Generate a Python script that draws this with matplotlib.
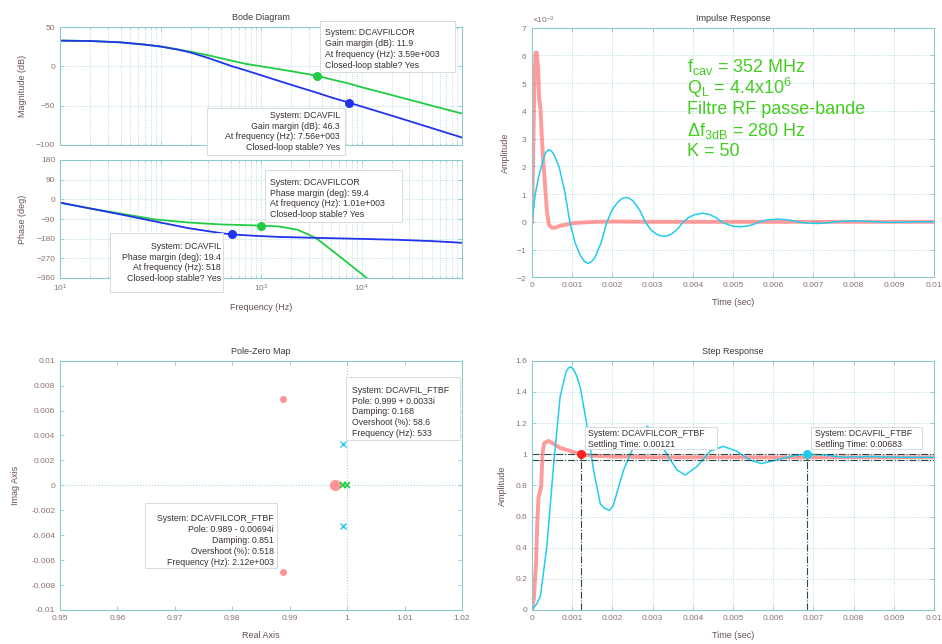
import numpy as np
import matplotlib.pyplot as plt
from matplotlib.patches import Rectangle
from matplotlib.ticker import FuncFormatter, NullFormatter, LogLocator, ScalarFormatter, MultipleLocator

plt.rcParams['font.family'] = ['Liberation Sans', 'DejaVu Sans']
plt.rcParams['mathtext.fontset'] = 'custom'
plt.rcParams['mathtext.rm'] = 'Liberation Sans'
plt.rcParams['mathtext.it'] = 'Liberation Sans:italic'

# ---- Bode data ----
mag_freq = [10, 20, 40, 70, 100, 150, 200, 300, 518, 700, 1010, 2000, 3590, 5000, 7560,
            10000, 20000, 50000, 100000]
mag_fil = [32.7, 32.2, 30.5, 27.6, 25.2, 21.2, 17.5, 10.5, 0, -5, -11.5, -23.5, -33.5, -39.5,
           -46.3, -51, -62.7, -78.5, -90.5]
mag_filcor = [32.7, 32.2, 30.5, 27.6, 25.2, 21.5, 18.5, 14, 7, 3.2, 0, -6.2, -11.9, -16.5,
              -22, -26.5, -36.5, -50, -60]

ph_freq_fil = [10, 19, 41, 88, 190, 405, 518, 870, 1500, 3300, 10000, 22000, 50000, 100000]
ph_fil = [-15, -40, -70, -101, -132, -155, -160.6, -167, -172, -176, -181, -185, -191, -199]
ph_freq_filcor = [10, 19, 41, 88, 190, 405, 700, 1010, 1500, 2300, 3000, 3590, 4500, 5600,
                  8300, 11200, 14000]
ph_filcor = [-15, -40, -66, -92, -106, -115, -118, -120.6, -124, -139, -162, -180, -215,
             -249, -311, -359, -410]

gm_fil = (7560, -46.3)
gm_filcor = (3590, -11.9)
pm_fil = (518, -160.6)
pm_filcor = (1010, -120.6)

# ---- Impulse response (amplitude in 1e-3 units, time in ms) ----
imp_t_fil = [0, 0.08, 0.17, 0.28, 0.34, 0.41, 0.48, 0.55, 0.68, 0.82, 0.94, 1.07, 1.2, 1.3,
             1.39, 1.48, 1.56, 1.72, 1.865, 2.0, 2.14, 2.24, 2.34, 2.43, 2.52, 2.68, 2.815,
             2.95, 3.1, 3.19, 3.29, 3.38, 3.47, 3.63, 3.765, 3.9, 4.05, 4.24, 4.42, 4.58,
             4.715, 4.87, 5.02, 5.19, 5.37, 5.53, 5.665, 5.85, 6.14, 6.42, 6.615, 6.8, 7.09,
             7.36, 7.565, 7.8, 8.04, 8.3, 8.515, 8.75, 8.99, 9.25, 9.465, 10]
imp_v_fil = [0, 1.0, 1.65, 2.25, 2.5, 2.6, 2.56, 2.42, 1.95, 1.05, 0, -0.75, -1.2, -1.42,
             -1.5, -1.44, -1.3, -0.75, 0, 0.45, 0.72, 0.84, 0.88, 0.84, 0.75, 0.42, 0,
             -0.28, -0.45, -0.5, -0.52, -0.5, -0.44, -0.25, 0, 0.16, 0.26, 0.31, 0.26, 0.15,
             0, -0.1, -0.16, -0.18, -0.15, -0.08, 0, 0.07, 0.1, 0.06, 0, -0.04, -0.06,
             -0.035, 0, 0.025, 0.035, 0.02, 0, -0.012, -0.02, -0.01, 0, 0.005]
imp_t_filcor = [0, 0.03, 0.06, 0.09, 0.12, 0.15, 0.18, 0.21, 0.25, 0.29, 0.33, 0.37, 0.42,
                0.5, 0.6, 0.7, 0.85, 1.0, 1.3, 1.6, 2.0, 3.0, 10]
imp_v_filcor = [0, 2.5, 5.0, 6.1, 6.1, 5.6, 4.4, 4.1, 2.9, 2.0, 1.2, 0.4, -0.1, -0.22, -0.2,
                -0.14, -0.1, -0.05, -0.02, 0, 0.01, 0, 0]

# ---- Pole-zero map ----
pz_filcor_re = [0.9888, 0.9888]
pz_filcor_im = [0.00694, -0.00694]
pz_filcor_zero = (0.9979, 0.0)
pz_fil_re = [0.99925, 0.99925]
pz_fil_im = [0.0033, -0.0033]
pz_green_re = [0.9992, 0.9999]
pz_green_im = [0.0, 0.0]

# ---- Step response (time in ms) ----
stp_t_fil = [0, 0.12, 0.21, 0.37, 0.54, 0.7, 0.85, 0.91, 0.97, 1.03, 1.1, 1.2, 1.37, 1.53,
             1.7, 1.82, 1.93, 2.02, 2.11, 2.28, 2.48, 2.65, 2.87, 3.1, 3.31, 3.6, 3.81, 4.1,
             4.43, 4.76, 5.09, 5.42, 5.71, 6.08, 6.5, 6.83, 7.25, 7.75, 8.4, 9.2, 10]
stp_v_fil = [0, 0.04, 0.09, 0.41, 0.94, 1.37, 1.53, 1.555, 1.56, 1.545, 1.51, 1.43, 1.18,
             0.9, 0.68, 0.65, 0.64, 0.67, 0.75, 0.9, 1.02, 1.12, 1.18, 1.12, 1.02, 0.9, 0.866,
             0.92, 1.02, 1.05, 1.02, 0.963, 0.94, 0.963, 0.99, 1.0, 0.995, 0.98, 0.985, 0.98,
             0.98]
stp_t_filcor = [0, 0.05, 0.1, 0.13, 0.16, 0.2, 0.23, 0.26, 0.3, 0.41, 0.55, 0.7, 0.9, 1.21,
                1.5, 2.0, 3.0, 5.0, 10]
stp_v_filcor = [0, 0.08, 0.3, 0.55, 0.72, 0.76, 0.8, 1.0, 1.07, 1.085, 1.065, 1.04, 1.025,
                1.0, 0.99, 0.985, 0.98, 0.98, 0.98]
settle_fil = (0.00683, 1.0)
settle_filcor = (0.00121, 1.0)
settle_band = [1.0, 0.96]

# ---- colours ----
FRAME = '#8ccaca'
GRID = '#a8d4d4'
TICKTXT = '#8a7272'
LABTXT = '#6a5050'
GREEN = '#22cc44'
BLUE = '#2233ee'
CYAN = '#22ccee'
RED = '#ff7a7a'
TIPTXT = '#3a3030'

W, H = 942, 644
fig = plt.figure(figsize=(W / 100, H / 100), dpi=100)


def box(x0, y0, x1, y1):
    return [x0 / W, 1 - y1 / H, (x1 - x0) / W, (y1 - y0) / H]


def style(ax, title=None):
    for s in ax.spines.values():
        s.set_color(FRAME)
        s.set_linewidth(0.8)
    ax.tick_params(which='both', direction='in', top=True, right=True, colors=FRAME,
                   labelcolor=TICKTXT, labelsize=6, length=3, width=0.6)
    ax.tick_params(which='minor', length=1.5)
    if title:
        ax.set_title(title, fontsize=6.5, color='#3a3a3a', pad=5)


def tip(ax, rect, tx, ty, text, ha='left'):
    x0, y0, x1, y1 = rect
    ax.add_patch(Rectangle((x0 / W, 1 - y1 / H), (x1 - x0) / W, (y1 - y0) / H,
                           transform=fig.transFigure, facecolor='white', edgecolor='#d4dcdc',
                           lw=0.7, zorder=8, clip_on=False))
    ax.text(tx / W, 1 - ty / H, text, transform=fig.transFigure, ha=ha, va='center',
            fontsize=6.3, color=TIPTXT, linespacing=1.28, zorder=9, clip_on=False)


def labels(ax, xlab, ylab, xpos, ypos):
    if xlab:
        ax.set_xlabel(xlab, fontsize=6.5, color=LABTXT)
        ax.xaxis.set_label_coords(0.5, xpos)
    ax.set_ylabel(ylab, fontsize=6.5, color=LABTXT)
    ax.yaxis.set_label_coords(ypos, 0.5)


gfmt = FuncFormatter(lambda v, p: f'{v:g}')

# ================= Bode magnitude =================
ax_m = fig.add_axes(box(60, 27, 462, 145))
ax_m.set_zorder(3)
style(ax_m, 'Bode Diagram')
ax_m.semilogx(mag_freq, mag_filcor, color=GREEN, lw=1.3)
ax_m.semilogx(mag_freq, mag_fil, color=BLUE, lw=1.3)
ax_m.plot(*gm_filcor, 'o', color=GREEN, ms=5.5)
ax_m.plot(*gm_fil, 'o', color=BLUE, ms=5.5)
ax_m.set_xlim(10, 1e5)
ax_m.set_ylim(-100, 50)
ax_m.set_yticks([-100, -50, 0, 50])
ax_m.set_xticks([10, 100, 1000, 10000])
ax_m.xaxis.set_minor_locator(LogLocator(subs=range(2, 10)))
ax_m.xaxis.set_minor_formatter(NullFormatter())
ax_m.tick_params(labelbottom=False)
ax_m.grid(True, which='major', ls=':', color=GRID, lw=0.6)
ax_m.grid(True, which='minor', axis='x', ls=':', color=GRID, lw=0.6)
labels(ax_m, None, 'Magnitude (dB)', 0, -0.083)
tip(ax_m, (320, 20.7, 455, 71.7), 325, 49,
    'System: DCAVFILCOR\nGain margin (dB): 11.9\nAt frequency (Hz): 3.59e+003\n'
    'Closed-loop stable? Yes')
tip(ax_m, (207, 108, 345, 155), 340, 131.5,
    'System: DCAVFIL\nGain margin (dB): 46.3\nAt frequency (Hz): 7.56e+003\n'
    'Closed-loop stable? Yes', ha='right')

# ================= Bode phase =================
ax_p = fig.add_axes(box(60, 160, 462, 278))
style(ax_p)
ax_p.semilogx(ph_freq_filcor, ph_filcor, color=GREEN, lw=1.3)
ax_p.semilogx(ph_freq_fil, ph_fil, color=BLUE, lw=1.3)
ax_p.plot(*pm_filcor, 'o', color=GREEN, ms=5.5)
ax_p.plot(*pm_fil, 'o', color=BLUE, ms=5.5)
ax_p.set_xlim(10, 1e5)
ax_p.set_ylim(-360, 180)
ax_p.set_yticks([-360, -270, -180, -90, 0, 90, 180])
ax_p.set_xticks([10, 100, 1000, 10000])
ax_p.set_xticklabels(['$10^{1}$', '$10^{2}$', '$10^{3}$', '$10^{4}$'])
ax_p.xaxis.set_minor_locator(LogLocator(subs=range(2, 10)))
ax_p.xaxis.set_minor_formatter(NullFormatter())
ax_p.grid(True, which='major', ls=':', color=GRID, lw=0.6)
ax_p.grid(True, which='minor', axis='x', ls=':', color=GRID, lw=0.6)
labels(ax_p, 'Frequency (Hz)', 'Phase (deg)', -0.212, -0.083)
tip(ax_p, (265, 170, 402, 222), 270, 198.5,
    'System: DCAVFILCOR\nPhase margin (deg): 59.4\nAt frequency (Hz): 1.01e+003\n'
    'Closed-loop stable? Yes')
tip(ax_p, (110, 233, 223, 292), 221, 262.5,
    'System: DCAVFIL\nPhase margin (deg): 19.4\nAt frequency (Hz): 518\n'
    'Closed-loop stable? Yes', ha='right')

# ================= Impulse response =================
ax_i = fig.add_axes(box(532, 27.7, 934, 277.3))
style(ax_i, 'Impulse Response')
ax_i.plot(np.array(imp_t_filcor) * 1e-3, np.array(imp_v_filcor) * 1e-3, color=RED, lw=2.8,
          alpha=0.75, solid_joinstyle='round')
ax_i.plot(np.array(imp_t_fil) * 1e-3, np.array(imp_v_fil) * 1e-3, color=CYAN, lw=1.1)
ax_i.set_xlim(0, 0.01)
ax_i.set_ylim(-2e-3, 7e-3)
ax_i.xaxis.set_major_locator(MultipleLocator(0.001))
ax_i.xaxis.set_major_formatter(gfmt)
ax_i.yaxis.set_major_locator(MultipleLocator(1e-3))
sf = ScalarFormatter(useMathText=True)
sf.set_powerlimits((0, 0))
ax_i.yaxis.set_major_formatter(sf)
ax_i.yaxis.get_offset_text().set_fontsize(6)
ax_i.yaxis.get_offset_text().set_color(TICKTXT)
ax_i.grid(True, ls=':', color=GRID, lw=0.6)
labels(ax_i, 'Time (sec)', 'Amplitude', -0.083, -0.056)
info = ['f$_{\\mathrm{cav}}$ = 352 MHz', 'Q$_{\\mathrm{L}}$ = 4.4x10$^{6}$',
        'Filtre RF passe-bande', 'Δf$_{\\mathrm{3dB}}$ = 280 Hz', 'K = 50']
for k, line in enumerate(info):
    ax_i.text(0.386, 0.844 - k * 0.0853, line, transform=ax_i.transAxes, ha='left',
              va='center', fontsize=13, color='#44cc22')

# ================= Pole-Zero map =================
ax_z = fig.add_axes(box(60, 360.7, 462, 610))
style(ax_z, 'Pole-Zero Map')
ax_z.axhline(0, ls=':', color=GRID, lw=0.8)
ax_z.axvline(1, ls=':', color=GRID, lw=0.8)
ax_z.plot(pz_filcor_re, pz_filcor_im, 'o', color=RED, ms=5, alpha=0.8, mec='none')
ax_z.plot(*pz_filcor_zero, 'o', color=RED, ms=8, alpha=0.8, mec='none')
ax_z.plot(pz_fil_re, pz_fil_im, 'x', color=CYAN, ms=4, mew=1)
ax_z.plot(pz_green_re, pz_green_im, 'x', color=GREEN, ms=4, mew=1.2)
ax_z.set_xlim(0.95, 1.02)
ax_z.set_ylim(-0.01, 0.01)
ax_z.xaxis.set_major_locator(MultipleLocator(0.01))
ax_z.yaxis.set_major_locator(MultipleLocator(0.002))
ax_z.xaxis.set_major_formatter(gfmt)
ax_z.yaxis.set_major_formatter(gfmt)
labels(ax_z, 'Real Axis', 'Imag Axis', -0.084, -0.1)
tip(ax_z, (345.7, 376.7, 460, 440), 351.5, 412,
    'System: DCAVFIL_FTBF\nPole: 0.999 + 0.0033i\nDamping: 0.168\nOvershoot (%): 58.6\n'
    'Frequency (Hz): 533')
tip(ax_z, (145, 503.3, 276.7, 568.3), 274, 540.5,
    'System: DCAVFILCOR_FTBF\nPole: 0.989 - 0.00694i\nDamping: 0.851\n'
    'Overshoot (%): 0.518\nFrequency (Hz): 2.12e+003', ha='right')

# ================= Step response =================
ax_s = fig.add_axes(box(532, 360.7, 934, 610))
style(ax_s, 'Step Response')
ax_s.plot(np.array(stp_t_filcor) * 1e-3, stp_v_filcor, color=RED, lw=2.8, alpha=0.75,
          solid_joinstyle='round')
ax_s.plot(np.array(stp_t_fil) * 1e-3, stp_v_fil, color=CYAN, lw=1.1)
for yb in settle_band:
    ax_s.axhline(yb, ls='-.', color='#2a4a4a', lw=0.8)
for (ts, vs), c in ((settle_filcor, '#ff2020'), (settle_fil, CYAN)):
    ax_s.plot([ts, ts], [0, vs], ls='-.', color='#2a4a4a', lw=0.8)
    ax_s.plot(ts, vs, 'o', color=c, ms=5.5)
ax_s.set_xlim(0, 0.01)
ax_s.set_ylim(0, 1.6)
ax_s.xaxis.set_major_locator(MultipleLocator(0.001))
ax_s.yaxis.set_major_locator(MultipleLocator(0.2))
ax_s.xaxis.set_major_formatter(gfmt)
ax_s.yaxis.set_major_formatter(gfmt)
ax_s.grid(True, ls=':', color=GRID, lw=0.6)
labels(ax_s, 'Time (sec)', 'Amplitude', -0.084, -0.063)
tip(ax_s, (585, 426.7, 716.7, 449.3), 588.5, 438.8,
    'System: DCAVFILCOR_FTBF\nSettling Time: 0.00121')
tip(ax_s, (810.7, 426.7, 922.3, 449.3), 815, 438.8,
    'System: DCAVFIL_FTBF\nSettling Time: 0.00683')

fig.savefig('out.png', dpi=100)
